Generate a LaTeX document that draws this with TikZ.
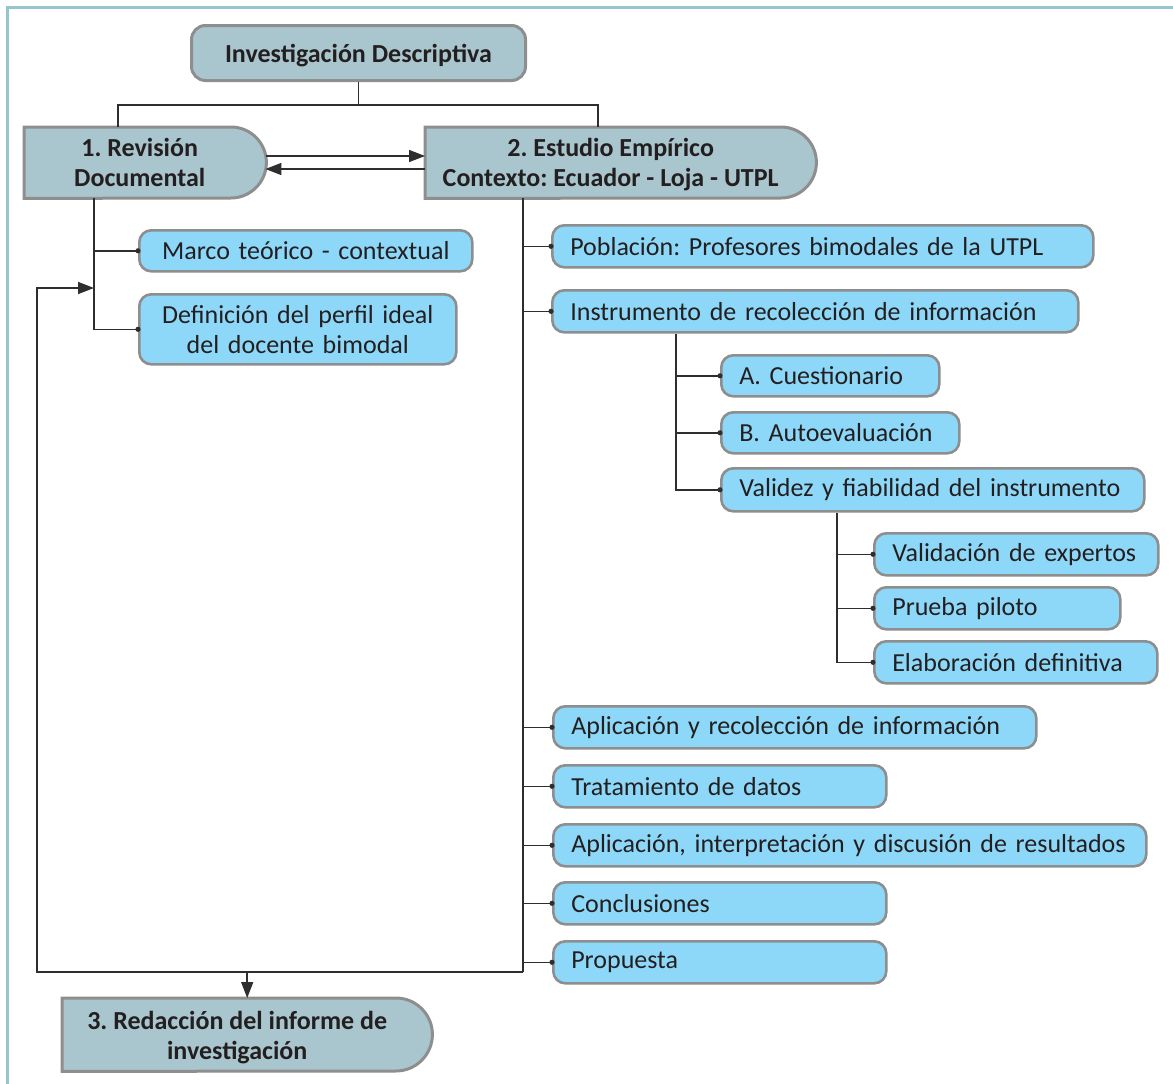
\documentclass[tikz,border=0pt]{standalone}
\usepackage{fontspec}
\setmainfont{Carlito}
\usetikzlibrary{arrows.meta,backgrounds}
\frenchspacing

\definecolor{frameC}{HTML}{95C5CE}
\definecolor{headC}{HTML}{A9C6CE}
\definecolor{leafC}{HTML}{8DD8F8}
\definecolor{edgeC}{HTML}{8E8E8E}
\definecolor{lineC}{HTML}{2E2E2E}
\definecolor{textC}{HTML}{231F20}

\tikzset{
  every node/.style={text=textC},
  headtext/.style={font=\fontsize{26}{30}\selectfont\bfseries, inner sep=0pt, anchor=north west},
  headshape/.style={fill=headC, draw=edgeC, line width=3pt},
  leaf/.style={rectangle, rounded corners=12pt, fill=leafC, draw=edgeC, line width=2.6pt,
    inner xsep=18pt, inner ysep=0pt, font=\fontsize{26}{30}\selectfont, anchor=north west, align=left},
  leafc/.style={leaf, align=center},
  link/.style={draw=lineC, line width=1.5pt},
  arr/.style={link, -{Triangle[length=16pt,width=12pt]}},
}

\begin{document}
\begin{tikzpicture}[x=1pt,y=-1pt]
\useasboundingbox (0,0) rectangle (1173,1084);

% page frame
\draw[frameC, line width=3pt] (7,1084) -- (7,7) -- (1173,7);

% main stages
\node[headtext, draw=edgeC, fill=headC, line width=3pt, rounded corners=14pt,
      minimum width=334pt, minimum height=55pt] (top) at (190,24) {\rule{0pt}{24pt}Investigación Descriptiva};
\node[headtext, minimum width=242pt, minimum height=71pt] (rev) at (24,127)
  {\begin{tabular}{@{}c@{\hspace{11pt}}}\rule{0pt}{27pt}1. Revisión\\Documental\end{tabular}};
\node[headtext, minimum width=391pt, minimum height=71pt] (emp) at (425,127)
  {\begin{tabular}{@{}c@{\hspace{20pt}}}\rule{0pt}{27pt}2. Estudio Empírico\\Contexto: Ecuador - Loja - UTPL\end{tabular}};
\node[headtext, minimum width=370pt, minimum height=73pt] (red) at (62,998)
  {\begin{tabular}{@{}c@{\hspace{20pt}}}\rule{0pt}{28pt}3. Redacción del informe de\\investigación\end{tabular}};

\begin{scope}[on background layer]
  \draw[headshape] (rev.north west) -- ([xshift=-35.5pt]rev.north east)
    arc[start angle=90, end angle=-90, radius=35.5pt] -- (rev.south west) -- cycle;
  \draw[headshape] (emp.north west) -- ([xshift=-35.5pt]emp.north east)
    arc[start angle=90, end angle=-90, radius=35.5pt] -- (emp.south west) -- cycle;
  \draw[headshape] (red.north west) -- ([xshift=-36.5pt]red.north east)
    arc[start angle=90, end angle=-90, radius=36.5pt] -- (red.south west) -- cycle;
\end{scope}

% documentary review
\node[leafc, minimum height=41pt, text width=297pt] (marco) at (138,229) {Marco teórico - contextual};
\node[leafc, minimum height=70pt, text width=281pt] (defi) at (138,293) {Definición del perfil ideal\\del docente bimodal};

% empirical study
\node[leaf, minimum height=42pt, text width=505pt] (pob) at (551,224) {Población: Profesores bimodales de la UTPL};
\node[leaf, minimum height=42pt, text width=490pt] (inst) at (551,289) {Instrumento de recolección de información};
\node[leaf, minimum height=41pt, text width=182pt] (cues) at (720,354) {A. Cuestionario};
\node[leaf, minimum height=41pt, text width=202pt] (auto) at (720,411) {B. Autoevaluación};
\node[leaf, minimum height=43pt, text width=387pt] (vali) at (720,467) {Validez y fiabilidad del instrumento};
\node[leaf, minimum height=42pt, text width=248pt] (expe) at (873,532) {Validación de expertos};
\node[leaf, minimum height=42pt, text width=210pt] (pilo) at (873,586) {Prueba piloto};
\node[leaf, minimum height=42pt, text width=247pt] (elab) at (873,640) {Elaboración definitiva};
\node[leaf, minimum height=42pt, text width=447pt] (aplr) at (552,705) {Aplicación y recolección de información};
\node[leaf, minimum height=42pt, text width=297pt] (trat) at (552,764) {Tratamiento de datos};
\node[leaf, minimum height=42pt, text width=557pt] (apli) at (552,823) {Aplicación, interpretación y discusión de resultados};
\node[leaf, minimum height=42pt, text width=297pt] (conc) at (552,881) {Conclusiones};
\node[leaf, minimum height=42pt, text width=297pt] (prop) at (552,940) {Propuesta};

% junction points
\coordinate (sL) at (118,105);
\coordinate (sR) at (598,105);
\coordinate (tL) at (94,250);
\coordinate (fb) at (94,288);
\coordinate (tR) at (523,972);
\coordinate (bL) at (37,972);
\coordinate (tI) at (676,400);
\coordinate (tV) at (837,600);

% top split
\draw[link] (top.south) -- (top.south |- sL);
\draw[link] (sL |- rev.north) -- (sL) -- (sR) -- (sR |- emp.north);

% exchange between stages 1 and 2
\draw[arr] (rev.east |- 0,156) -- (emp.west |- 0,156);
\draw[arr] (emp.west |- 0,169) -- ([xshift=-1pt]rev.east |- 0,169);

% branches of stage 1
\draw[link] (tL |- rev.south) |- (defi.west);
\draw[link] (tL |- marco.west) -- (marco.west);

% branches of stage 2
\draw[link] (tR |- emp.south) -- (tR);
\foreach \n in {pob,inst,aplr,trat,apli,conc,prop}
  \draw[link] (tR |- \n.west) -- (\n.west);
\draw[link] (tI |- inst.south) |- (vali.west);
\foreach \n in {cues,auto}
  \draw[link] (tI |- \n.west) -- (\n.west);
\draw[link] (tV |- vali.south) |- (elab.west);
\foreach \n in {expe,pilo}
  \draw[link] (tV |- \n.west) -- (\n.west);

% feedback loop and final stage
\draw[arr] (tR) -- (bL) |- (fb);
\draw[arr] (red.north |- tR) -- (red.north);

% junction dots
\foreach \n in {marco,defi,pob,inst,cues,auto,vali,expe,pilo,elab,aplr,trat,apli,conc,prop}
  \fill[lineC] (\n.west) circle (2.6pt);
\end{tikzpicture}
\end{document}
